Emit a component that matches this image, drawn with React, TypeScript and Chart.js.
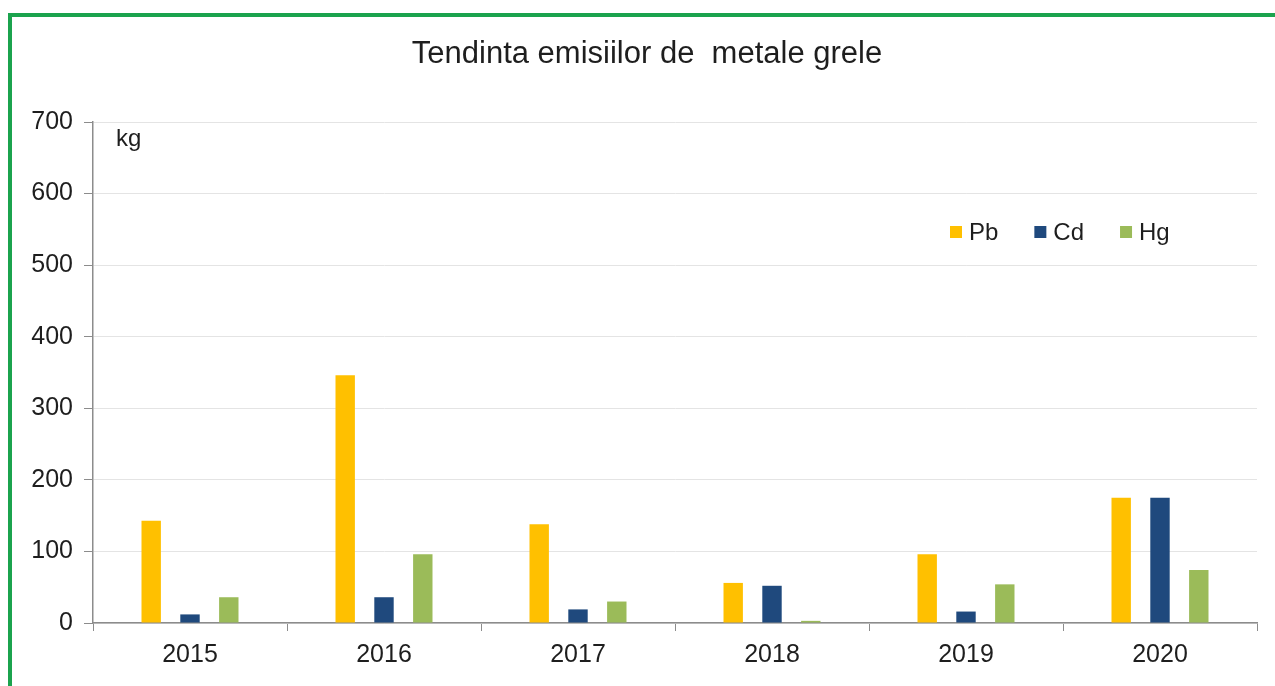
import React, { useEffect, useRef } from "react";
import { Chart, registerables } from "chart.js";

Chart.register(...registerables);

const years = ["2015", "2016", "2017", "2018", "2019", "2020"];
const seriesNames = ["Pb", "Cd", "Hg"];
const pbValues = [143, 346, 138, 56, 96, 175];
const cdValues = [12, 36, 19, 52, 16, 175];
const hgValues = [36, 96, 30, 3, 54, 74];
const seriesColors = ["#ffc000", "#1f497d", "#9bbb59"];
const yTicks = [0, 100, 200, 300, 400, 500, 600, 700];

const titleText = "Tendinta emisiilor de  metale grele";
const unitText = "kg";
const FONT = '"Liberation Sans", Arial, sans-serif';
const TEXT_COLOR = "#1e1e1e";

// Title, unit label and the in-plot legend
const overlayPlugin = {
  id: "overlay",
  afterDraw(chart: any) {
    const { ctx, chartArea } = chart;
    ctx.save();
    ctx.fillStyle = TEXT_COLOR;
    ctx.textBaseline = "middle";

    ctx.font = `31px ${FONT}`;
    ctx.textAlign = "center";
    ctx.fillText(titleText, chartArea.left + 554, chartArea.top - 68);

    ctx.font = `24px ${FONT}`;
    ctx.textAlign = "left";
    ctx.fillText(unitText, chartArea.left + 23, chartArea.top + 17);

    let x = chartArea.left + 857;
    const y = chartArea.top + 110;
    const box = 12;
    chart.data.datasets.forEach((ds: any) => {
      ctx.fillStyle = ds.backgroundColor;
      ctx.fillRect(x, y - box / 2, box, box);
      ctx.fillStyle = TEXT_COLOR;
      ctx.fillText(ds.label, x + box + 7, y + 1);
      x += box + 7 + ctx.measureText(ds.label).width + 36;
    });
    ctx.restore();
  },
};

export default function App() {
  const canvasRef = useRef<HTMLCanvasElement | null>(null);

  useEffect(() => {
    if (!canvasRef.current) return;
    Chart.defaults.font.family = FONT;
    const values = [pbValues, cdValues, hgValues];
    const chart = new Chart(canvasRef.current, {
      type: "bar",
      data: {
        labels: years,
        datasets: seriesNames.map((name, i) => ({
          label: name,
          data: values[i],
          backgroundColor: seriesColors[i],
          categoryPercentage: 0.6,
          barPercentage: 0.5,
        })),
      },
      options: {
        responsive: false,
        animation: false,
        layout: { padding: { left: 0, right: 18, top: 122, bottom: 0 } },
        plugins: {
          legend: { display: false },
          tooltip: { enabled: false },
          title: { display: false },
        },
        scales: {
          x: {
            afterFit(scale: any) {
              scale.height = 63;
            },
            grid: {
              offset: true,
              drawOnChartArea: false,
              tickLength: 8,
              tickColor: "#8c8c8c",
            },
            border: { color: "#8c8c8c", width: 1.5 },
            ticks: {
              color: TEXT_COLOR,
              font: { size: 25, family: FONT },
              padding: 9,
            },
          },
          y: {
            min: 0,
            max: 700,
            afterFit(scale: any) {
              scale.width = 93;
            },
            afterBuildTicks(scale: any) {
              scale.ticks = yTicks.map((v) => ({ value: v }));
            },
            grid: {
              color: "#e4e4e4",
              tickLength: 9,
              tickColor: "#8c8c8c",
            },
            border: { color: "#8c8c8c", width: 1.5 },
            ticks: {
              color: TEXT_COLOR,
              font: { size: 25, family: FONT },
              padding: 11,
            },
          },
        },
      },
      plugins: [overlayPlugin],
    });
    return () => chart.destroy();
  }, []);

  return (
    <div style={{ position: "fixed", left: 0, top: 0, width: 1275, height: 686, overflow: "hidden", background: "#fff" }}>
      <div
        style={{
          position: "absolute",
          left: 8,
          top: 13,
          width: 1300,
          height: 700,
          borderTop: "4px solid #1ba34d",
          borderLeft: "4px solid #1ba34d",
        }}
      />
      <canvas
        ref={canvasRef}
        width={1275}
        height={686}
        style={{ position: "absolute", left: 0, top: 0, width: 1275, height: 686 }}
      />
    </div>
  );
}
